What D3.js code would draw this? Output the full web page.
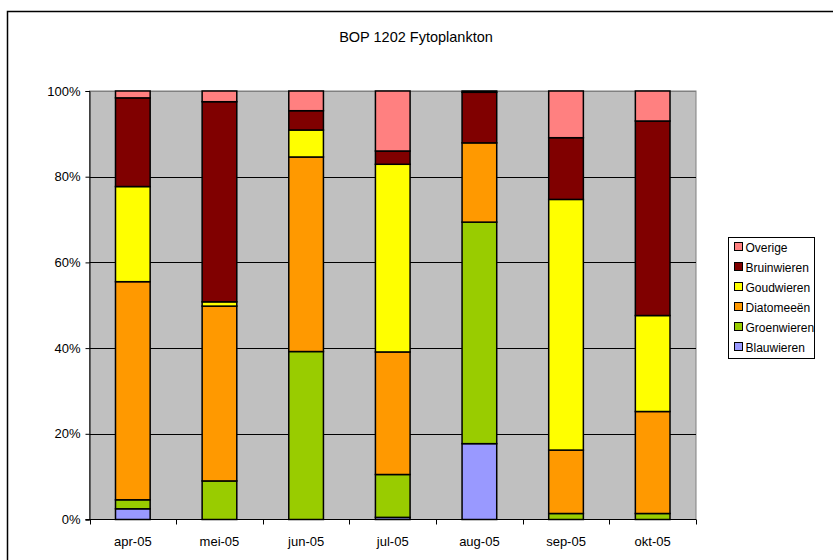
<!DOCTYPE html>
<html lang="en">
  <head>
    <meta charset="utf-8">
    <style>
      body { margin: 0; background: #fff; }
      text { font-family: "Liberation Sans", Arial, sans-serif; }
    </style>
  </head>
  <body>
    <script src="https://d3js.org/d3.v7.min.js"></script>
    <script>
      var width = 833,
        height = 560;

      // data (percent of total per month)
      var months = ["apr-05", "mei-05", "jun-05", "jul-05", "aug-05", "sep-05", "okt-05"];
      var groups = ["Blauwieren", "Groenwieren", "Diatomeeën", "Goudwieren", "Bruinwieren", "Overige"];
      var colors = ["#9999FF", "#99CC00", "#FF9900", "#FFFF00", "#800000", "#FF8080"];
      var blauwieren = [2.5, 0, 0, 0.5, 17.7, 0, 0];
      var groenwieren = [2.1, 9.0, 39.2, 10.0, 51.7, 1.4, 1.4];
      var diatomeeen = [50.9, 40.8, 45.4, 28.6, 18.5, 14.8, 23.8];
      var goudwieren = [22.2, 1.0, 6.3, 43.8, 0, 58.5, 22.4];
      var bruinwieren = [20.7, 46.7, 4.5, 3.1, 11.8, 14.4, 45.4];
      var overige = [1.6, 2.5, 4.6, 14.0, 0.3, 10.9, 7.0];
      var yTicks = [0, 0.2, 0.4, 0.6, 0.8, 1];

      var series = [blauwieren, groenwieren, diatomeeen, goudwieren, bruinwieren, overige];
      var rows = months.map(function (m, i) {
        var r = { month: m };
        groups.forEach(function (g, j) { r[g] = series[j][i]; });
        return r;
      });

      var svg = d3.select("body").append("svg")
        .attr("width", width)
        .attr("height", height);

      // outer chart frame
      svg.append("rect")
        .attr("x", 7.5).attr("y", 11.5)
        .attr("width", width + 20).attr("height", height + 20)
        .attr("fill", "#fff")
        .attr("stroke", "#000")
        .attr("stroke-width", 1.5);

      svg.append("text")
        .attr("x", 416).attr("y", 42)
        .attr("text-anchor", "middle")
        .attr("font-size", 14.5)
        .text("BOP 1202 Fytoplankton");

      var plot = { left: 89.5, right: 696, top: 91, bottom: 519.5 };

      var x = d3.scaleBand().domain(months).range([plot.left, plot.right]).paddingInner(0).paddingOuter(0);
      var y = d3.scaleLinear().domain([0, 1]).range([plot.bottom, plot.top]);

      // plot background
      svg.append("rect")
        .attr("x", plot.left).attr("y", plot.top)
        .attr("width", plot.right - plot.left).attr("height", plot.bottom - plot.top)
        .attr("fill", "#C0C0C0")
        .attr("stroke", "#808080")
        .attr("stroke-width", 1);

      // gridlines
      svg.append("g").selectAll("line")
        .data(yTicks.slice(1))
        .join("line")
        .attr("x1", plot.left).attr("x2", plot.right)
        .attr("y1", function (d) { return Math.round(y(d)) + 0.5; })
        .attr("y2", function (d) { return Math.round(y(d)) + 0.5; })
        .attr("stroke", function (d) { return d === 1 ? "#808080" : "#000"; })
        .attr("stroke-width", 1);

      var stack = d3.stack().keys(groups).offset(d3.stackOffsetExpand);
      var layers = stack(rows);

      var barW = x.bandwidth() * 0.4;
      svg.append("g").selectAll("g")
        .data(layers)
        .join("g")
        .attr("fill", function (d, i) { return colors[i]; })
        .selectAll("rect")
        .data(function (d) { return d.filter(function (p) { return p[1] - p[0] > 0; }); })
        .join("rect")
        .attr("x", function (d) { return x(d.data.month) + (x.bandwidth() - barW) / 2; })
        .attr("width", barW)
        .attr("y", function (d) { return y(d[1]); })
        .attr("height", function (d) { return y(d[0]) - y(d[1]); })
        .attr("stroke", "#000")
        .attr("stroke-width", 1.5);

      // y axis
      var yAxis = d3.axisLeft(y).tickValues(yTicks).tickFormat(d3.format(".0%")).tickSize(4).tickPadding(5);
      var yg = svg.append("g").attr("transform", "translate(" + plot.left + ",0)").call(yAxis);
      yg.select(".domain").attr("stroke", "#000");
      yg.selectAll("text").attr("font-size", 13).attr("fill", "#000").style("font-family", "Liberation Sans, Arial, sans-serif");

      // x axis with ticks between categories
      var xg = svg.append("g");
      xg.append("line")
        .attr("x1", plot.left - 4).attr("x2", plot.right)
        .attr("y1", plot.bottom).attr("y2", plot.bottom)
        .attr("stroke", "#000");
      var edges = months.map(function (m) { return x(m); }).concat([plot.right]);
      xg.selectAll(".tk")
        .data(edges)
        .join("line")
        .attr("class", "tk")
        .attr("x1", function (d) { return Math.round(d) + 0.5; })
        .attr("x2", function (d) { return Math.round(d) + 0.5; })
        .attr("y1", plot.bottom).attr("y2", plot.bottom + 5)
        .attr("stroke", "#000");
      xg.selectAll("text")
        .data(months)
        .join("text")
        .attr("x", function (d) { return x(d) + x.bandwidth() / 2; })
        .attr("y", 546)
        .attr("text-anchor", "middle")
        .attr("font-size", 13)
        .text(function (d) { return d; });

      // legend (top entry = last series)
      var legend = svg.append("g");
      legend.append("rect")
        .attr("x", 728.5).attr("y", 237.5)
        .attr("width", 86).attr("height", 121)
        .attr("fill", "#fff")
        .attr("stroke", "#000");
      var items = groups.map(function (g, i) { return { name: g, color: colors[i] }; }).reverse();
      var li = legend.selectAll(".item")
        .data(items)
        .join("g")
        .attr("class", "item")
        .attr("transform", function (d, i) { return "translate(734," + (247 + i * 20) + ")"; });
      li.append("rect")
        .attr("x", 0.5).attr("y", -4.5)
        .attr("width", 8).attr("height", 8)
        .attr("fill", function (d) { return d.color; })
        .attr("stroke", "#000");
      li.append("text")
        .attr("x", 11.5).attr("y", 4.5)
        .attr("font-size", 12)
        .text(function (d) { return d.name; });
    </script>
  </body>
</html>
